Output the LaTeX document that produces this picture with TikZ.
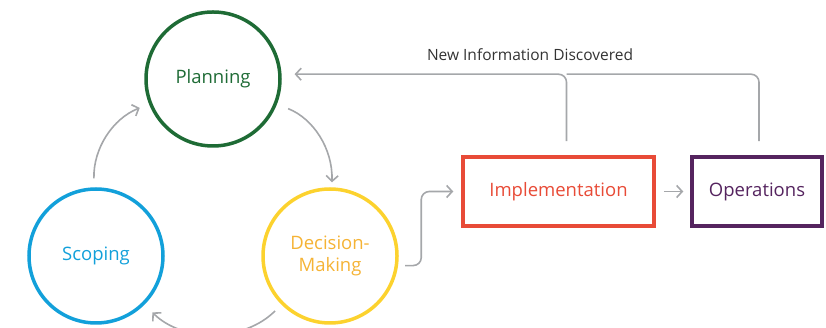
\documentclass[tikz,border=0pt]{standalone}
\usepackage{fontspec}
\setmainfont{Open Sans}
\usepackage{tikz}
\usetikzlibrary{arrows.meta}

\definecolor{plangreen}{HTML}{1E6B35}
\definecolor{scopeblue}{HTML}{12A0DA}
\definecolor{decyellow}{HTML}{FCD22E}
\definecolor{decorange}{HTML}{F5B335}
\definecolor{implred}{HTML}{E84B37}
\definecolor{opspurple}{HTML}{55245F}
\definecolor{flowgray}{HTML}{A5A7AA}

\begin{document}
\begin{tikzpicture}[x=1pt,y=1pt,
    phase/.style={circle,line width=3.5pt,minimum size=134pt,inner sep=0pt,font=\fontsize{18.5}{22}\selectfont,align=center},
    stage/.style={rectangle,line width=3.5pt,minimum height=69pt,inner sep=0pt,font=\fontsize{18.5}{22}\selectfont},
    flow/.style={draw=flowgray,line width=1.6pt,-{Straight Barb[length=5.5pt,width=12pt]}}]
  \useasboundingbox (0,0) rectangle (826,328);
  \node[phase,draw=plangreen,text=plangreen](plan) at (213,249){Planning};
  \node[phase,draw=scopeblue,text=scopeblue](scope) at (96,72){Scoping};
  \node[phase,draw=decyellow,text=decorange](dec) at (330,72){Decision-\\Making};
  \node[stage,draw=implred,text=implred,minimum width=191pt](impl) at (558.5,136.5){Implementation};
  \node[stage,draw=opspurple,text=opspurple,minimum width=130pt](ops) at (757,136.5){Operations};
  \node[font=\fontsize{15.5}{18}\selectfont,text=black!80](newinfo) at (530,273){New Information Discovered};
  % cycle
  \draw[flow,shorten <=12pt,shorten >=5pt] (plan) to[bend left=35] (dec);
  \draw[flow,shorten <=9pt,shorten >=11pt] (dec) to[bend left=45] (scope);
  \draw[flow,shorten <=9pt,shorten >=10pt] (scope) to[bend left=35] (plan);
  % forward
  \draw[flow,rounded corners=8pt,shorten <=7pt,shorten >=8pt] (dec.-8) -| ([xshift=-40pt]impl.west) -- (impl.west);
  \draw[flow,shorten <=8pt,shorten >=7pt] (impl.east) -- (ops.west);
  % feedback
  \coordinate (riser) at ([xshift=8pt]impl.north);
  \draw[flow,rounded corners=8pt,shorten <=14pt,shorten >=13pt] (riser) |- (plan.4);
  \draw[flow,-,rounded corners=8pt,shorten <=14pt] ([xshift=2pt]ops.north) |- (riser |- plan.4);
\end{tikzpicture}
\end{document}
